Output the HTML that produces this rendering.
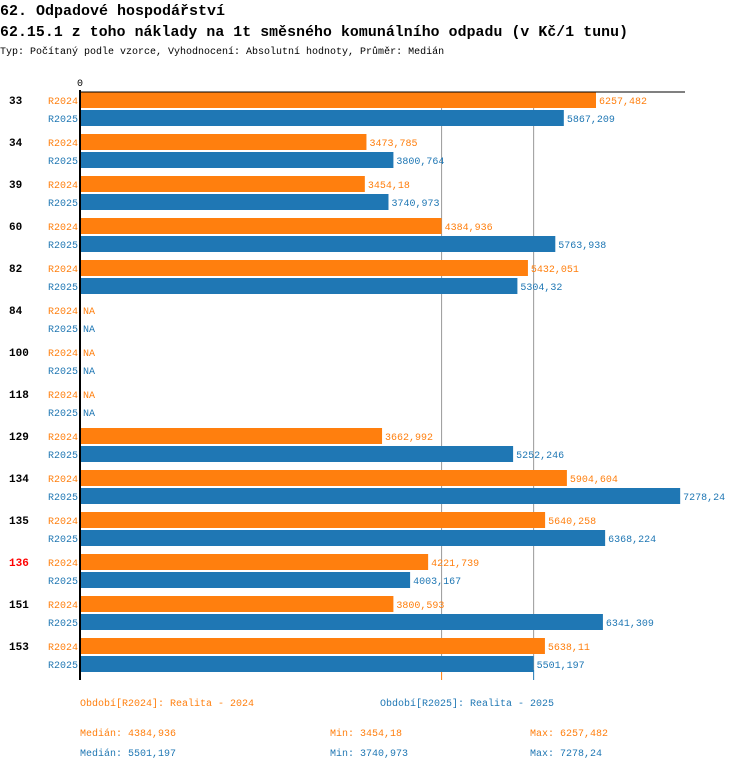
<!DOCTYPE html>
<html><head><meta charset="utf-8"><style>
body{margin:0;background:#fff;}
svg text{font-family:"Liberation Mono","DejaVu Sans Mono",monospace;}
</style></head><body>
<svg id="c" width="750" height="770" xmlns="http://www.w3.org/2000/svg">
<text x="0" y="15" font-size="15" font-weight="bold" fill="#000">62. Odpadové hospodářství</text>
<text x="0" y="36" font-size="14.8" font-weight="bold" fill="#000" textLength="628">62.15.1 z toho náklady na 1t směsného komunálního odpadu (v Kč/1 tunu)</text>
<text x="0" y="54" font-size="10" fill="#000">Typ: Počítaný podle vzorce, Vyhodnocení: Absolutní hodnoty, Průměr: Medián</text>
<g id="plot"></g>
<text x="80" y="706" font-size="10" fill="#ff7f0e">Období[R2024]: Realita - 2024</text>
<text x="380" y="706" font-size="10" fill="#1f77b4">Období[R2025]: Realita - 2025</text>
<text x="80" y="736" font-size="10" fill="#ff7f0e">Medián: 4384,936</text>
<text x="330" y="736" font-size="10" fill="#ff7f0e">Min: 3454,18</text>
<text x="530" y="736" font-size="10" fill="#ff7f0e">Max: 6257,482</text>
<text x="80" y="756" font-size="10" fill="#1f77b4">Medián: 5501,197</text>
<text x="330" y="756" font-size="10" fill="#1f77b4">Min: 3740,973</text>
<text x="530" y="756" font-size="10" fill="#1f77b4">Max: 7278,24</text>
</svg>
<script>
const categories=["33","34","39","60","82","84","100","118","129","134","135","136","151","153"];
const r2024=[6257.482,3473.785,3454.18,4384.936,5432.051,null,null,null,3662.992,5904.604,5640.258,4221.739,3800.593,5638.11];
const r2025=[5867.209,3800.764,3740.973,5763.938,5304.32,null,null,null,5252.246,7278.24,6368.224,4003.167,6341.309,5501.197];
const highlighted=["136"];
const median2024=4384.936, median2025=5501.197;
const NS="http://www.w3.org/2000/svg";
const g=document.getElementById('plot');
const x0=80, scale=(596-80)/6257.482;
const xs=v=>x0+v*scale;
const rowY=i=>92+42*i;
function el(t,a){const e=document.createElementNS(NS,t);for(const k in a)e.setAttribute(k,a[k]);g.appendChild(e);return e;}
function fmt(v){return String(v).replace('.',',');}
let gl=el('line',{x1:xs(median2024),x2:xs(median2024),y1:92,y2:670,stroke:'#999','stroke-width':1});


let gl2=el('line',{x1:xs(median2025),x2:xs(median2025),y1:92,y2:670,stroke:'#999','stroke-width':1});


let tk=el('line',{x1:xs(median2024),x2:xs(median2024),y1:670,y2:680,stroke:'#ff7f0e','stroke-width':1});


let tk2=el('line',{x1:xs(median2025),x2:xs(median2025),y1:670,y2:680,stroke:'#1f77b4','stroke-width':1});


categories.forEach((c,i)=>{
  const y=rowY(i);
  const cl=el('text',{x:9,y:y+12,'font-size':11,'font-weight':'bold',fill:highlighted.includes(c)?'#ff0000':'#000'});
  cl.textContent=c;
  
  
  [[r2024,'R2024','#ff7f0e',0],[r2025,'R2025','#1f77b4',18]].forEach(([arr,lab,col,off])=>{
    const t=el('text',{x:78,y:y+off+12,'font-size':10,fill:col,'text-anchor':'end'});
    t.textContent=lab;
    
    
    const v=arr[i];
    if(v!=null){
      const r=el('rect',{x:x0,y:y+off,width:xs(v)-x0,height:16,fill:col});
      
      
    }
    const vt=el('text',{x:(v!=null?xs(v):x0)+3,y:y+off+12,'font-size':10,fill:col});
    vt.textContent=v!=null?fmt(v):'NA';
    
    
  });
});
let ax=el('line',{x1:x0,x2:x0,y1:90,y2:680,stroke:'#000','stroke-width':2});


let tl=el('line',{x1:x0,x2:685,y1:92,y2:92,stroke:'#000','stroke-width':1});


let z=el('text',{x:x0,y:86,'font-size':10,fill:'#000','text-anchor':'middle'});
z.textContent='0';


</script>
</body></html>
